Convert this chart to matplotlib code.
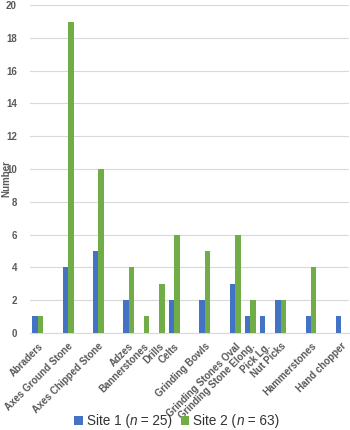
import matplotlib
matplotlib.use("Agg")
from matplotlib import pyplot as plt
from matplotlib.offsetbox import TextArea, HPacker, DrawingArea, AnchoredOffsetbox
from matplotlib.patches import Rectangle
import numpy as np

# categories (blank entries are empty slots in the original chart)
categories = ["Abraders", "", "Axes Ground Stone", "", "Axes Chipped Stone", "",
              "Adzes", "Bannerstones", "Drills", "Celts", "", "Grinding Bowls", "",
              "Grinding Stones Oval", "Grinding Stone Elong.", "Pick Lg.", "Nut Picks", "",
              "Hammerstones", "", "Hand chopper"]
site1 = [1, 0, 4, 0, 5, 0, 2, 0, 0, 2, 0, 2, 0, 3, 1, 1, 2, 0, 1, 0, 1]
site2 = [1, 0, 19, 0, 10, 0, 4, 1, 3, 6, 0, 5, 0, 6, 2, 0, 2, 0, 4, 0, 0]
y_ticks = [0, 2, 4, 6, 8, 10, 12, 14, 16, 18, 20]
series_names = ["Site 1", "Site 2"]
series_n = [25, 63]

plt.rcParams['font.family'] = ['Liberation Sans', 'DejaVu Sans']

text_color = '#595959'
blue = '#4472C4'
green = '#70AD47'

fig = plt.figure(figsize=(3.5, 4.3), dpi=100)
ax = fig.add_axes([0.086, 0.226, 0.911, 0.762])

x = np.arange(len(categories))
w = 0.36
ax.bar(x - w / 2, site1, width=w, color=blue, zorder=3)
ax.bar(x + w / 2, site2, width=w, color=green, zorder=3)

ax.set_xlim(-0.5, len(categories) - 0.5)
ax.set_ylim(0, 20)
ax.set_yticks(y_ticks)
ax.yaxis.grid(True, color='#d9d9d9', linewidth=0.8, zorder=0)

shown = [i for i, c in enumerate(categories) if c]
ax.set_xticks(shown)
ax.set_xticklabels([categories[i] for i in shown], rotation=45, ha='right',
                   rotation_mode='anchor', fontsize=7, color=text_color)
ax.tick_params(axis='y', labelsize=7, labelcolor=text_color, length=0, pad=9.5)
ax.tick_params(axis='x', length=0, pad=6)
for lbl in ax.get_yticklabels():
    lbl.set_fontweight('bold')
for lbl in ax.get_xticklabels():
    lbl.set_fontweight('bold')

for side in ['top', 'right', 'left']:
    ax.spines[side].set_visible(False)
ax.spines['bottom'].set_color('#d9d9d9')
ax.spines['bottom'].set_linewidth(0.8)

ax.set_ylabel('Number', fontsize=7, color=text_color, fontweight='bold')
ax.yaxis.set_label_coords(-0.06, 0.47)

# legend with italic n, built from pieces
def legend_entry(color, name, n):
    box = DrawingArea(6, 6)
    box.add_artist(Rectangle((0, 0), 6, 6, facecolor=color, edgecolor='none'))
    props = dict(fontsize=9.8, color='#333333')
    label = HPacker(children=[
        TextArea(f"{name} (", textprops=props),
        TextArea("n", textprops=dict(props, style='italic')),
        TextArea("\u00a0= " + str(n) + ")", textprops=props),
    ], sep=0, pad=0, align='baseline')
    return HPacker(children=[box, label], sep=3, pad=0, align='center')

entries = [legend_entry(c, nm, n) for c, nm, n in zip([blue, green], series_names, series_n)]
legend_box = HPacker(children=entries, sep=6, pad=0, align='center')
anchored = AnchoredOffsetbox(loc='center', child=legend_box, frameon=False,
                             bbox_to_anchor=(0.505, 0.022), bbox_transform=fig.transFigure,
                             borderpad=0, pad=0)
fig.add_artist(anchored)

fig.savefig('out.png', dpi=100)
